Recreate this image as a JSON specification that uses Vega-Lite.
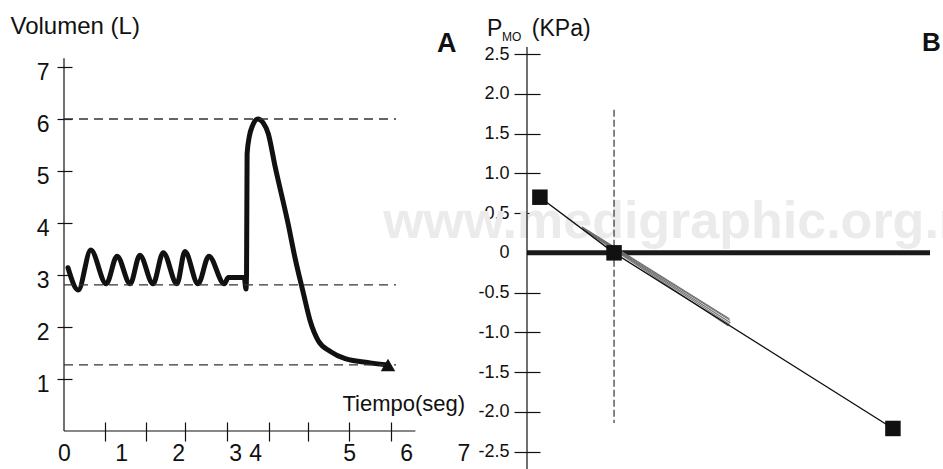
{
  "$schema": "https://vega.github.io/schema/vega-lite/v6.json",
  "background": "white",
  "padding": {"left": 10, "top": 14, "right": 0, "bottom": 0},
  "bounds": "flush",
  "spacing": 58,
  "config": {
    "view": {"stroke": null},
    "font": "Liberation Sans",
    "axis": {"grid": false, "labelColor": "#111", "tickColor": "#111", "titleColor": "#111", "labelFont": "Liberation Sans", "titleFont": "Liberation Sans"},
    "text": {"font": "Liberation Sans", "color": "#111"}
  },
  "hconcat": [
    {
      "width": 405,
      "height": 384,
      "layer": [
        {
          "data": {"values": [{"t": 0.07, "v": 3.14}, {"t": 0.25, "v": 2.71}, {"t": 0.47, "v": 3.48}, {"t": 0.74, "v": 2.83},
            {"t": 0.93, "v": 3.36}, {"t": 1.16, "v": 2.83}, {"t": 1.33, "v": 3.38}, {"t": 1.56, "v": 2.83},
            {"t": 1.74, "v": 3.43}, {"t": 1.98, "v": 2.83}, {"t": 2.12, "v": 3.45}, {"t": 2.35, "v": 2.83},
            {"t": 2.54, "v": 3.36}, {"t": 2.81, "v": 2.83}, {"t": 2.88, "v": 2.95}, {"t": 3.16, "v": 2.95},
            {"t": 3.19, "v": 2.73}, {"t": 3.2, "v": 3.0}, {"t": 3.21, "v": 5.33}, {"t": 3.25, "v": 5.67},
            {"t": 3.3, "v": 5.86}, {"t": 3.4, "v": 6.0}, {"t": 3.49, "v": 5.93}, {"t": 3.58, "v": 5.72},
            {"t": 3.7, "v": 5.09}, {"t": 3.93, "v": 3.98}, {"t": 4.05, "v": 3.33}, {"t": 4.19, "v": 2.68},
            {"t": 4.32, "v": 2.1}, {"t": 4.46, "v": 1.73}, {"t": 4.67, "v": 1.53}, {"t": 4.93, "v": 1.39},
            {"t": 5.37, "v": 1.31}, {"t": 5.68, "v": 1.27}]},
          "mark": {"type": "line", "color": "#111", "strokeWidth": 5, "interpolate": "monotone", "strokeCap": "round", "strokeJoin": "round"},
          "encoding": {
            "x": {
              "field": "t", "type": "quantitative",
              "scale": {"domain": [0, 7.1], "nice": false, "zero": false},
              "axis": {
                "orient": "bottom", "offset": -9, "domain": false,
                "values": [0, 0.72, 1, 1.44, 2, 2.12, 2.86, 3, 3.35, 3.6, 4.28, 5, 5.74, 6, 7],
                "tickCount": 40,
                "tickSize": 19, "tickWidth": 1.2,
                "tickOpacity": {"condition": {"test": "indexof([0.72,1.44,2.12,2.86,3.6,4.28,5,5.74], datum.value) >= 0", "value": 1}, "value": 0},
                "labelExpr": "datum.value == 3.35 ? '4' : (indexof([0,1,2,3,5,6,7], datum.value) >= 0 ? format(datum.value, 'd') : '')",
                "labelFontSize": 23, "labelPadding": 1, "labelOverlap": false, "labelBound": false, "labelFlush": false,
                "title": "Tiempo(seg)", "titleFontSize": 22, "titleFontWeight": "normal",
                "titleAlign": "left", "titleBaseline": "alphabetic", "titleX": 278, "titleY": -12
              }
            },
            "y": {
              "field": "v", "type": "quantitative",
              "scale": {"domain": [0, 7.385], "nice": false, "zero": false},
              "axis": {
                "orient": "left", "offset": -8, "domain": false,
                "values": [1, 2, 3, 4, 5, 6, 7],
                "tickCount": 40,
                "tickSize": 15, "tickWidth": 1.2,
                "labelExpr": "format(datum.value, 'd')",
                "labelFontSize": 23, "labelPadding": 8, "labelOffset": 5,
                "title": "Volumen (L)", "titleAngle": 0, "titleFontSize": 24, "titleFontWeight": "normal",
                "titleAlign": "left", "titleBaseline": "alphabetic", "titleX": -62, "titleY": -14
              }
            }
          }
        },
        {
          "data": {"values": [{}]},
          "mark": {"type": "rule", "color": "#111", "strokeWidth": 1.2},
          "encoding": {
            "x": {"datum": 0, "type": "quantitative"},
            "y": {"datum": 0, "type": "quantitative"},
            "y2": {"datum": 7.17}
          }
        },
        {
          "data": {"values": [{}]},
          "mark": {"type": "rule", "color": "#111", "strokeWidth": 1.2},
          "encoding": {
            "y": {"datum": 0, "type": "quantitative"},
            "x": {"datum": 0, "type": "quantitative"},
            "x2": {"datum": 6.16}
          }
        },
        {
          "data": {"values": [{"level": 6}, {"level": 2.81}, {"level": 1.27}]},
          "mark": {"type": "rule", "color": "#333", "strokeWidth": 1.3, "strokeDash": [9, 6]},
          "encoding": {
            "y": {"field": "level", "type": "quantitative"},
            "x": {"datum": 0, "type": "quantitative"},
            "x2": {"datum": 5.82}
          }
        },
        {
          "data": {"values": [{"t": 5.68, "v": 1.27}]},
          "mark": {"type": "point", "shape": "triangle-up", "filled": true, "color": "#111", "size": 210, "opacity": 1},
          "encoding": {
            "x": {"field": "t", "type": "quantitative"},
            "y": {"field": "v", "type": "quantitative"}
          }
        },
        {
          "data": {"values": [{}]},
          "mark": {"type": "text", "text": "A", "fontSize": 27, "fontWeight": "bold", "align": "left", "baseline": "alphabetic"},
          "encoding": {
            "x": {"datum": 6.54, "type": "quantitative"},
            "y": {"datum": 7.29, "type": "quantitative"}
          }
        }
      ]
    },
    {
      "width": 403,
      "height": 422,
      "layer": [
        {
          "data": {"values": [{}]},
          "mark": {"type": "text", "text": "www.medigraphic.org.m", "fontSize": 52, "fontWeight": "bold", "color": "#ebebeb", "align": "left", "baseline": "alphabetic"},
          "encoding": {
            "x": {"datum": -3.57, "type": "quantitative", "axis": null},
            "y": {"datum": 0.19, "type": "quantitative"}
          }
        },
        {
          "data": {"values": [{}]},
          "mark": {"type": "rule", "color": "#1a1a1a", "strokeWidth": 5},
          "encoding": {
            "y": {"datum": 0, "type": "quantitative"},
            "x": {"datum": 0, "type": "quantitative", "axis": null},
            "x2": {"datum": 10}
          }
        },
        {
          "data": {"values": [{}]},
          "mark": {"type": "rule", "color": "#111", "strokeWidth": 1.2},
          "encoding": {
            "x": {"datum": 0, "type": "quantitative", "axis": null},
            "y": {"datum": 2.59, "type": "quantitative"},
            "y2": {"datum": -2.72}
          }
        },
        {
          "data": {"values": [{}]},
          "mark": {"type": "rule", "color": "#333", "strokeWidth": 1.2, "strokeDash": [7, 3]},
          "encoding": {
            "x": {"datum": 2.16, "type": "quantitative", "axis": null},
            "y": {"datum": 1.8, "type": "quantitative"},
            "y2": {"datum": -2.14}
          }
        },
        {
          "data": {"values": [
            {"s": "a", "x": 1.36, "p": 0.33}, {"s": "a", "x": 5.02, "p": -0.83},
            {"s": "b", "x": 1.37, "p": 0.32}, {"s": "b", "x": 5.04, "p": -0.85},
            {"s": "c", "x": 1.38, "p": 0.31}, {"s": "c", "x": 5.05, "p": -0.88},
            {"s": "d", "x": 1.4, "p": 0.3}, {"s": "d", "x": 5.03, "p": -0.9},
            {"s": "e", "x": 1.41, "p": 0.29}, {"s": "e", "x": 5.0, "p": -0.92}
          ]},
          "mark": {"type": "line", "color": "#6f6f6f", "strokeWidth": 1.1},
          "encoding": {
            "x": {"field": "x", "type": "quantitative", "axis": null},
            "y": {"field": "p", "type": "quantitative"},
            "detail": {"field": "s"}
          }
        },
        {
          "data": {"values": [{"x": 0.32, "p": 0.7}, {"x": 2.16, "p": 0}, {"x": 9.08, "p": -2.21}]},
          "mark": {"type": "line", "color": "#111", "strokeWidth": 1.4},
          "encoding": {
            "x": {"field": "x", "type": "quantitative", "scale": {"domain": [0, 10], "nice": false, "zero": false}, "axis": null},
            "y": {
              "field": "p", "type": "quantitative",
              "scale": {"domain": [-2.72, 2.59], "nice": false, "zero": false},
              "axis": {
                "orient": "left", "offset": -13, "domain": false,
                "values": [2.5, 2, 1.5, 1, 0.5, 0, -0.5, -1, -1.5, -2, -2.5],
                "tickCount": 40,
                "tickSize": 26, "tickWidth": 1.2,
                "tickOpacity": {"condition": {"test": "datum.value == 0", "value": 0}, "value": 1},
                "labelExpr": "datum.value == 0 ? '0' : (datum.value < 0 ? '-' + format(-datum.value, '.1f') : format(datum.value, '.1f'))",
                "labelFontSize": 18, "labelPadding": 5, "labelOverlap": false, "labelFlush": false,
                "title": null
              }
            }
          }
        },
        {
          "data": {"values": [{"x": 0.32, "p": 0.7}, {"x": 2.16, "p": 0}, {"x": 9.08, "p": -2.21}]},
          "mark": {"type": "point", "shape": "square", "filled": true, "color": "#111", "size": 240, "opacity": 1},
          "encoding": {
            "x": {"field": "x", "type": "quantitative", "axis": null},
            "y": {"field": "p", "type": "quantitative"}
          }
        },
        {
          "data": {"values": [{}]},
          "mark": {"type": "text", "text": "P", "fontSize": 23, "align": "left", "baseline": "alphabetic"},
          "encoding": {
            "x": {"datum": -0.99, "type": "quantitative", "axis": null},
            "y": {"datum": 2.73, "type": "quantitative"}
          }
        },
        {
          "data": {"values": [{}]},
          "mark": {"type": "text", "text": "MO", "fontSize": 12, "align": "left", "baseline": "alphabetic"},
          "encoding": {
            "x": {"datum": -0.62, "type": "quantitative", "axis": null},
            "y": {"datum": 2.66, "type": "quantitative"}
          }
        },
        {
          "data": {"values": [{}]},
          "mark": {"type": "text", "text": "(KPa)", "fontSize": 23, "align": "left", "baseline": "alphabetic"},
          "encoding": {
            "x": {"datum": 0.12, "type": "quantitative", "axis": null},
            "y": {"datum": 2.73, "type": "quantitative"}
          }
        },
        {
          "data": {"values": [{}]},
          "mark": {"type": "text", "text": "B", "fontSize": 26, "fontWeight": "bold", "align": "left", "baseline": "alphabetic"},
          "encoding": {
            "x": {"datum": 9.8, "type": "quantitative", "axis": null},
            "y": {"datum": 2.54, "type": "quantitative"}
          }
        }
      ]
    }
  ]
}
